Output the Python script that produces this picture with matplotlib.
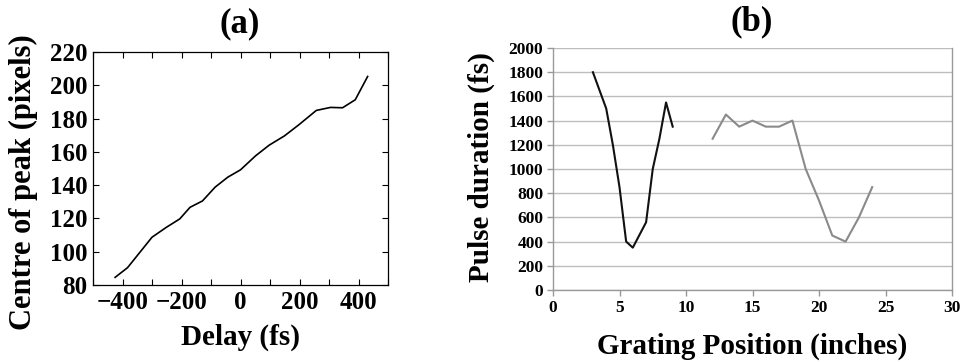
import matplotlib
matplotlib.use("Agg")
import matplotlib.pyplot as plt

plt.rcParams['font.family'] = ['Liberation Serif', 'DejaVu Serif']
plt.rcParams['font.weight'] = 'bold'

# Panel (a) data
delay_fs = [-425, -383, -300, -251, -206, -171, -129, -86, -43, 0, 51, 97, 149, 198,
            257, 305, 346, 389, 431]
centre_px = [84.6, 90.4, 108.7, 114.7, 119.7, 126.7, 130.5, 138.8, 144.8, 149.2, 157.6,
             164.0, 169.6, 176.3, 184.9, 186.7, 186.5, 191.3, 205.3]

# Panel (b) data
pos_black = [3, 4, 4.5, 5, 5.5, 6, 7, 7.5, 8, 8.5, 9]
dur_black = [1800, 1500, 1200, 850, 400, 350, 560, 1000, 1250, 1550, 1350]
pos_gray = [12, 13, 14, 15, 16, 17, 18, 19, 20, 21, 22, 23, 24]
dur_gray = [1250, 1450, 1350, 1400, 1350, 1350, 1400, 1000, 740, 450, 400, 600, 850]

W, H = 963, 362
fig = plt.figure(figsize=(W / 100, H / 100), dpi=100)

def ax_rect(l, t, r, b):
    return [l / W, (H - b) / H, (r - l) / W, (b - t) / H]

# ---- Panel (a)
ax1 = fig.add_axes(ax_rect(93, 52, 388, 285))
ax1.plot(delay_fs, centre_px, color='black', lw=1.2)
ax1.set_xlim(-500, 500)
ax1.set_ylim(80, 220)
xt = list(range(-500, 501, 100))
ax1.set_xticks(xt)
ax1.set_xticklabels(['' if (v % 200 or abs(v) == 500) else ('\u2212%d' % abs(v) if v < 0 else '%d' % v) for v in xt])
ax1.set_yticks(list(range(80, 221, 20)))
ax1.tick_params(direction='in', top=True, right=True, length=4, width=0.8,
                labelsize=18, pad=4)
for s in ax1.spines.values():
    s.set_linewidth(0.9)
for lab in ax1.get_xticklabels() + ax1.get_yticklabels():
    lab.set_fontweight('bold')
fig.text(240 / W, 1 - 24 / H, '(a)', ha='center', va='center', fontsize=25, fontweight='bold')
fig.text(240 / W, 1 - 337 / H, 'Delay (fs)', ha='center', va='center', fontsize=21, fontweight='bold')
fig.text(23 / W, 1 - 182 / H, 'Centre of peak (pixels)', ha='center', va='center',
         rotation=90, fontsize=22, fontweight='bold')

# ---- Panel (b)
ax2 = fig.add_axes(ax_rect(553, 48, 952, 290))
ax2.plot(pos_black, dur_black, color='#111111', lw=1.5)
ax2.plot(pos_gray, dur_gray, color='#8a8a8a', lw=1.5)
ax2.set_xlim(0, 30)
ax2.set_ylim(0, 2000)
ax2.set_xticks(range(0, 31, 5))
ax2.set_yticks(range(0, 2001, 200))
ax2.yaxis.grid(True, color='#bdbdbd', lw=1.0)
ax2.set_axisbelow(True)
for name, s in ax2.spines.items():
    s.set_color('#999999')
    s.set_linewidth(1.0)
ax2.spines['top'].set_visible(False)
ax2.tick_params(direction='out', length=4, width=1.0, color='#999999',
                labelsize=12.5, pad=3)
for lab in ax2.get_xticklabels() + ax2.get_yticklabels():
    lab.set_fontweight('bold')
fig.text(752 / W, 1 - 22 / H, '(b)', ha='center', va='center', fontsize=25, fontweight='bold')
fig.text(752 / W, 1 - 346 / H, 'Grating Position (inches)', ha='center', va='center',
         fontsize=21, fontweight='bold')
fig.text(481 / W, 1 - 167 / H, 'Pulse duration (fs)', ha='center', va='center',
         rotation=90, fontsize=21, fontweight='bold')

fig.savefig('out.png', dpi=100)
